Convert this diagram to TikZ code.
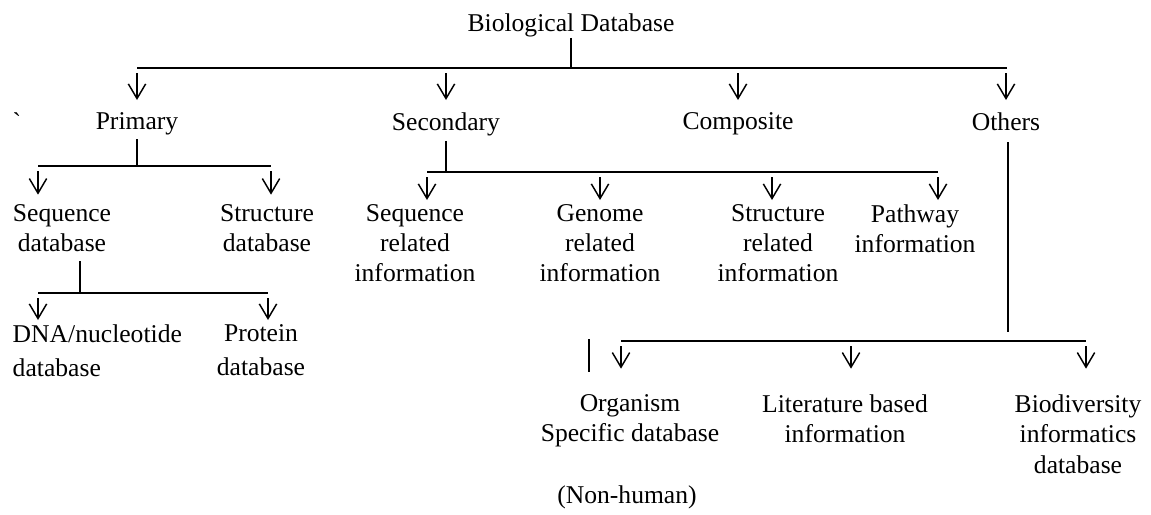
\documentclass[tikz,border=0pt]{standalone}
\usepackage{fontspec}
\setmainfont{Liberation Serif}
\usetikzlibrary{arrows.meta}
\usetikzlibrary{calc}
\newcommand{\dbarrow}[1][8pt]{\draw[-{Straight Barb[length=11pt,width=13pt]}, shorten <=4pt, shorten >=#1]}

\begin{document}
\begin{tikzpicture}[x=0.75pt, y=-0.75pt, line width=1.1pt,
    every node/.style={font=\fontsize{19.2}{22.5}\selectfont, inner sep=0pt, anchor=north, align=center}]
    \useasboundingbox (0,0) rectangle (1151,514);

    % Draw labels
    \node (title) at (571,13) {Biological Database};
    \node (tick) at (17,112) {\textasciigrave};
    \node (prim) at (137,112) {Primary};
    \node (sec) at (446,112) {Secondary};
    \node (comp) at (738,112) {Composite};
    \node (oth) at (1006,112) {Others};

    \node (seqdb) at (62,204) {Sequence\\database};
    \node (strdb) at (267,204) {Structure\\database};
    \node[anchor=north west, align=left] (dna) at (12,324) {DNA/nucleotide\\[3pt]database};
    \node (prot) at (261,324) {Protein\\[3pt]database};

    \node (seqrel) at (415,204) {Sequence\\related\\information};
    \node (genrel) at (600,204) {Genome\\related\\information};
    \node (strrel) at (778,204) {Structure\\related\\information};
    \node (path) at (915,204) {Pathway\\information};

    \node (org) at (630,394) {Organism\\Specific database};
    \node (nonhum) at (627,485) {(Non-human)};
    \node (lit) at (845,394) {Literature based\\information};
    \node (bio) at (1078,394) {Biodiversity\\informatics\\[1pt]database};

    % Draw buses
    \coordinate (b1l) at (137,68);
    \coordinate (b1r) at (1007,68);
    \coordinate (pb1) at (38,166);
    \coordinate (pb2) at (271,166);
    \coordinate (sq) at (80,293);
    \coordinate (qb1) at (38,293);
    \coordinate (qb2) at (268,293);
    \coordinate (sb1) at (427,172);
    \coordinate (sb2) at (600,172);
    \coordinate (sb3) at (772,172);
    \coordinate (sb4) at (938,172);
    \coordinate (oend) at (1008,332);
    \coordinate (ob1) at (621,341);
    \coordinate (ob2) at (851,341);
    \coordinate (ob3) at (1086,341);

    \draw (title.south) -- (title.south |- b1l);
    \draw (b1l) -- (b1r);
    \draw[shorten <=2.5pt] (prim.south) -- (prim.south |- pb1);
    \draw (pb1) -- (pb2);
    \draw[shorten <=6.5pt] (sq |- seqdb.south) -- (sq);
    \draw (qb1) -- (qb2);
    \draw[shorten <=3pt] (sec.south) -- (sec.south |- sb1);
    \draw (sb1) -- (sb4);
    \draw[shorten <=8pt] (oend |- oth.south) -- (oend);
    \draw (ob1) -- (ob3);
    \draw (589,339) -- (589,372);

    % Draw arrows
    \foreach \n in {prim,sec,comp,oth} {
        \dbarrow[9pt] (\n.north |- b1l) -- (\n.north);
    }
    \dbarrow[7pt] (pb1) -- (pb1 |- seqdb.north);
    \dbarrow[7pt] (pb2) -- (pb2 |- strdb.north);
    \dbarrow[3pt] (qb1) -- (qb1 |- dna.north);
    \dbarrow[3pt] (qb2) -- (qb2 |- prot.north);
    \dbarrow[3pt] (sb1) -- (sb1 |- seqrel.north);
    \dbarrow[3pt] (sb2) -- (sb2 |- genrel.north);
    \dbarrow[3pt] (sb3) -- (sb3 |- strrel.north);
    \dbarrow[3pt] (sb4) -- (sb4 |- path.north);
    \dbarrow[19pt] (ob1) -- (ob1 |- org.north);
    \dbarrow[19pt] (ob2) -- (ob2 |- lit.north);
    \dbarrow[19pt] (ob3) -- (ob3 |- bio.north);
\end{tikzpicture}
\end{document}
